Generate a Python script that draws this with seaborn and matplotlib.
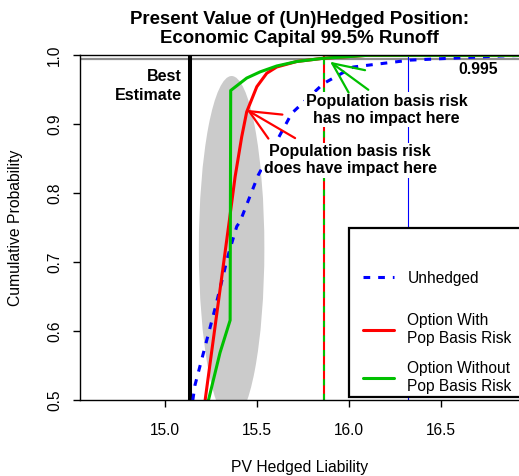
import numpy as np
import pandas as pd
import matplotlib
matplotlib.use("Agg")
import matplotlib.pyplot as plt
import seaborn as sns
from matplotlib.patches import Ellipse, Rectangle
from matplotlib.lines import Line2D

# ---- data ----
unhedged_x = [15.149, 15.161, 15.216, 15.270, 15.306, 15.342, 15.388, 15.406, 15.505,
              15.687, 15.859, 16.020, 16.330, 16.820, 16.950]
unhedged_y = [0.500, 0.522, 0.578, 0.633, 0.672, 0.711, 0.752, 0.759, 0.8265,
              0.916, 0.959, 0.983, 0.993, 0.999, 1.000]

with_basis_x = [15.216, 15.348, 15.379, 15.415, 15.442, 15.497, 15.551, 15.605, 15.714,
                15.859, 16.100, 16.950]
with_basis_y = [0.500, 0.761, 0.824, 0.882, 0.918, 0.9545, 0.974, 0.983, 0.991,
                0.9957, 1.000, 1.000]

without_basis_x = [15.234, 15.297, 15.352, 15.355, 15.442, 15.515, 15.605, 15.714,
                   15.859, 16.100, 16.950]
without_basis_y = [0.500, 0.569, 0.616, 0.949, 0.967, 0.976, 0.9845, 0.991,
                   0.9957, 1.000, 1.000]

best_estimate_x = [15.134]
var_hedged_x = [15.861]
var_unhedged_x = [16.317]
level_995 = [0.995]

# distribution shape (ellipse): centre x, centre y, full width, full height
ellipse_centre = [15.36, 0.72]
ellipse_size = [0.356, 0.50]

x_ticks = [15.0, 15.5, 16.0, 16.5]
y_ticks = [0.5, 0.6, 0.7, 0.8, 0.9, 1.0]
legend_labels = ["Unhedged", "Option With\nPop Basis Risk", "Option Without\nPop Basis Risk"]

title = "Present Value of (Un)Hedged Position:\nEconomic Capital 99.5% Runoff"

# ---- plotting ----
sns.set_theme(style="white")
plt.rcParams['font.family'] = ['Liberation Sans', 'DejaVu Sans']
plt.rcParams['text.color'] = 'black'
plt.rcParams['axes.labelcolor'] = 'black'
plt.rcParams['xtick.color'] = 'black'
plt.rcParams['ytick.color'] = 'black'

W, H = 519, 476
fig = plt.figure(figsize=(W / 100, H / 100), dpi=100)
ax = fig.add_axes([80 / W, (H - 400.3) / H, 439 / W, 345 / H])

ax.add_patch(Ellipse(ellipse_centre, ellipse_size[0], ellipse_size[1],
                     facecolor='#CBCBCB', edgecolor='none', zorder=1))

ax.axhline(level_995[0], color='#8c8c8c', lw=1.6, zorder=1.5)
ax.axvline(best_estimate_x[0], color='black', lw=2.9, zorder=2)
ax.axvline(var_unhedged_x[0], color='blue', lw=0.8, zorder=1.5)
ax.axvline(var_hedged_x[0], color='red', lw=1.5, zorder=1.6)
ax.axvline(var_hedged_x[0], color='#00C000', lw=1.5, linestyle=(0, (3, 4)), zorder=1.7)

df_u = pd.DataFrame({"x": unhedged_x, "y": unhedged_y})
df_r = pd.DataFrame({"x": with_basis_x, "y": with_basis_y})
df_g = pd.DataFrame({"x": without_basis_x, "y": without_basis_y})

dash = (0, (2.2, 2.6))
sns.lineplot(data=df_u, x="x", y="y", ax=ax, color='blue', lw=2.2,
             linestyle=dash, sort=False, estimator=None)
sns.lineplot(data=df_r, x="x", y="y", ax=ax, color='red', lw=2.2,
             sort=False, estimator=None)
sns.lineplot(data=df_g, x="x", y="y", ax=ax, color='#00C000', lw=2.2,
             sort=False, estimator=None)

ax.set_xlim(14.536, 16.922)
ax.set_ylim(0.5, 1.0)
ax.set_xticks(x_ticks)
ax.set_xticklabels([f"{v:.1f}" for v in x_ticks])
ax.set_yticks(y_ticks)
ax.set_yticklabels([f"{v:.1f}" for v in y_ticks], rotation=90, va='center')
ax.tick_params(axis='both', which='both', direction='out', length=5, width=1,
               color='black', labelsize=11.2, labelcolor='black',
               bottom=True, left=True)
ax.tick_params(axis='x', pad=11)
ax.tick_params(axis='y', pad=8)
for side in ['left', 'bottom', 'top']:
    ax.spines[side].set_color('black')
    ax.spines[side].set_linewidth(1.0)
ax.spines['right'].set_visible(False)

ax.set_xlabel("PV Hedged Liability", fontsize=11.3, labelpad=16, color='black')
ax.set_ylabel("Cumulative Probability", fontsize=11.3, labelpad=17, color='black')
ax.set_title(title, fontsize=13.4, fontweight='bold', pad=9, linespacing=1.15,
             color='black')

# text labels with white boxes
tb = dict(facecolor='white', edgecolor='none', pad=1.0)
ax.text(15.09, 0.956, "Best\nEstimate", ha='right', va='center', fontsize=11.5,
        fontweight='bold', linespacing=1.35, zorder=4)
ax.text(16.70, 0.979, "0.995", ha='center', va='center', fontsize=11.3,
        fontweight='bold', zorder=4)
ax.text(16.203, 0.921, "Population basis risk\nhas no impact here", ha='center',
        va='center', fontsize=11.5, fontweight='bold', bbox=tb, zorder=4)
ax.text(16.004, 0.848, "Population basis risk\ndoes have impact here", ha='center',
        va='center', fontsize=11.5, fontweight='bold', bbox=tb, zorder=4)

ap = '->, head_length=1.1, head_width=0.5'
ax.annotate('', xy=(15.442, 0.921), xytext=(15.705, 0.880),
            arrowprops=dict(arrowstyle=ap, color='red', lw=1.6, mutation_scale=20,
                            shrinkA=0, shrinkB=0), zorder=5)
ax.annotate('', xy=(15.895, 0.9907), xytext=(16.103, 0.950),
            arrowprops=dict(arrowstyle=ap, color='#00C000', lw=1.6, mutation_scale=20,
                            shrinkA=0, shrinkB=0), zorder=5)

# legend box
ax.add_patch(Rectangle((0.6134, 0.0104), 0.6, 0.49, transform=ax.transAxes,
                       facecolor='white', edgecolor='black', lw=1.6, zorder=6,
                       clip_on=False))
handles = [Line2D([], [], color='blue', lw=2.2, linestyle=dash),
           Line2D([], [], color='red', lw=2.2),
           Line2D([], [], color='#00C000', lw=2.2)]
lx = (363 - 80) / 439
common = dict(frameon=False, fontsize=11.2, handlelength=2.0, handletextpad=0.85,
              borderpad=0, borderaxespad=0)
leg1 = ax.legend(handles[:1], legend_labels[:1], loc='center left',
                 bbox_to_anchor=(lx, (400.3 - 278) / 345), **common)
leg1.set_zorder(7)
ax.add_artist(leg1)
leg2 = ax.legend(handles[1:], legend_labels[1:], loc='center left',
                 bbox_to_anchor=(lx, (400.3 - 353.5) / 345), labelspacing=0.95,
                 **common)
leg2.set_zorder(7)
for lg in (leg1, leg2):
    for t in lg.get_texts():
        t.set_linespacing(1.3)

fig.savefig("out.png", dpi=100)
